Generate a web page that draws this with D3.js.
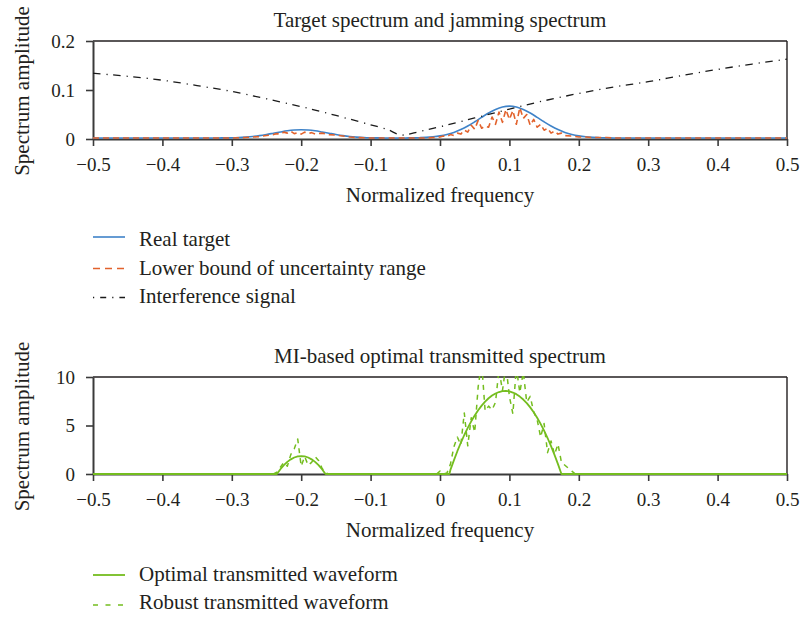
<!DOCTYPE html>
<html><head><meta charset="utf-8">
<script src="https://cdn.jsdelivr.net/npm/d3@7"></script>
<style>
body{margin:0;background:#fff}
svg{display:block}
text{font-family:"Liberation Serif","Times New Roman",serif;fill:#231f20}
</style>
</head><body>
<svg id="chart" width="801" height="618"></svg>
<script>
// ---------- data ----------
const xTicks = [-0.5,-0.4,-0.3,-0.2,-0.1,0,0.1,0.2,0.3,0.4,0.5];
const topYTicks = [0,0.1,0.2];
const botYTicks = [0,5,10];

const topTitle = "Target spectrum and jamming spectrum";
const botTitle = "MI-based optimal transmitted spectrum";
const xLabel = "Normalized frequency";
const yLabel = "Spectrum amplitude";
const topLegend = ["Real target","Lower bound of uncertainty range","Interference signal"];
const botLegend = ["Optimal transmitted waveform","Robust transmitted waveform"];

// Real target
const freqTarget = [-0.5,-0.33,-0.32,-0.31,-0.30,-0.29,-0.28,-0.27,-0.26,-0.25,-0.24,-0.23,-0.22,-0.21,-0.20,
  -0.19,-0.18,-0.17,-0.16,-0.15,-0.14,-0.13,-0.12,-0.11,-0.10,-0.09,-0.08,-0.07,-0.06,-0.05,-0.04,-0.03,-0.02,-0.01,
  0.00,0.01,0.02,0.03,0.04,0.05,0.06,0.07,0.08,0.09,0.10,0.11,0.12,0.13,0.14,0.15,0.16,0.17,0.18,0.19,0.20,
  0.21,0.22,0.23,0.24,0.25,0.26,0.5];
const ampTarget = [0.002,0.002,0.0021,0.0023,0.0025,0.0030,0.0039,0.0051,0.0069,0.0092,0.0118,0.0144,0.0168,0.0184,0.0190,
  0.0184,0.0168,0.0144,0.0118,0.0092,0.0069,0.0051,0.0039,0.0030,0.0025,0.0023,0.0021,0.002,0.002,0.0021,0.0023,0.0027,0.0033,0.0045,
  0.0064,0.0093,0.0135,0.0193,0.0266,0.0351,0.0442,0.0530,0.0603,0.0653,0.0670,0.0653,0.0603,0.0530,0.0442,0.0351,0.0266,0.0193,0.0135,0.0093,0.0064,
  0.0045,0.0033,0.0027,0.0023,0.0021,0.002,0.002];

// Lower bound of uncertainty range
const freqLower = [-0.5,-0.30,-0.28,-0.26,-0.25,-0.24,-0.235,-0.23,-0.225,-0.22,-0.215,-0.21,-0.205,-0.20,-0.195,-0.19,-0.185,-0.18,
  -0.17,-0.16,-0.15,-0.14,-0.13,-0.12,-0.10,-0.02,-0.01,0.0,0.005,0.01,0.015,0.02,0.025,0.03,0.035,0.04,0.045,0.05,0.055,0.06,
  0.065,0.07,0.075,0.08,0.085,0.09,0.095,0.1,0.105,0.11,0.115,0.12,0.125,0.13,0.135,0.14,0.145,0.15,0.155,0.16,0.165,0.17,0.175,
  0.18,0.19,0.2,0.21,0.22,0.24,0.25,0.5];
const ampLower = [0.002,0.002,0.003,0.005,0.007,0.009,0.011,0.010,0.014,0.012,0.016,0.011,0.013,0.010,0.014,0.011,0.013,0.010,
  0.012,0.009,0.008,0.006,0.004,0.003,0.002,0.002,0.003,0.004,0.006,0.005,0.009,0.007,0.012,0.010,0.018,0.014,0.028,0.020,0.038,0.022,
  0.026,0.024,0.045,0.030,0.055,0.034,0.060,0.040,0.058,0.030,0.064,0.042,0.050,0.028,0.040,0.024,0.030,0.018,0.022,0.012,0.016,0.010,0.012,
  0.007,0.006,0.004,0.004,0.003,0.003,0.002,0.002];

// Interference signal
const freqJam = [-0.5,-0.45,-0.4,-0.35,-0.3,-0.25,-0.2,-0.15,-0.1,-0.075,-0.055,-0.03,0,0.05,0.1,0.15,0.2,0.25,0.3,0.35,0.4,0.45,0.5];
const ampJam  = [0.134,0.128,0.120,0.109,0.097,0.082,0.066,0.048,0.029,0.019,0.008,0.015,0.025,0.043,0.061,0.078,0.093,0.106,0.117,0.130,0.142,0.153,0.163];

// Optimal transmitted waveform
const freqOpt = [-0.5,-0.235,-0.23,-0.225,-0.22,-0.215,-0.21,-0.205,-0.2,-0.195,-0.19,-0.185,-0.18,-0.175,-0.17,-0.165,
  0.0135,0.015,0.02,0.025,0.03,0.035,0.04,0.045,0.05,0.055,0.06,0.065,0.07,0.075,0.08,0.085,0.09,0.095,0.1,
  0.105,0.11,0.115,0.12,0.125,0.13,0.135,0.14,0.145,0.15,0.155,0.16,0.165,0.17,0.175,0.5];
const ampOpt = [0,0,0.49,0.91,1.25,1.51,1.70,1.81,1.85,1.81,1.70,1.51,1.25,0.91,0.49,0,
  0,0.42,1.41,2.35,3.22,4.02,4.76,5.43,6.03,6.58,7.05,7.46,7.81,8.09,8.30,8.45,8.54,8.56,8.51,
  8.40,8.23,7.98,7.68,7.31,6.87,6.37,5.80,5.17,4.47,3.71,2.88,1.98,1.02,0,0];

// Robust transmitted waveform
const freqRobust = [-0.5,-0.24,-0.235,-0.23,-0.225,-0.22,-0.215,-0.21,-0.205,-0.2,-0.195,-0.19,-0.185,-0.18,-0.175,-0.17,-0.165,-0.16,
  -0.005,0,0.005,0.01,0.015,0.02,0.025,0.03,0.035,0.04,0.045,0.05,0.055,0.06,0.065,0.07,0.075,0.08,0.085,0.09,0.095,0.1,
  0.105,0.11,0.115,0.12,0.125,0.13,0.135,0.14,0.145,0.15,0.155,0.16,0.165,0.17,0.175,0.18,0.185,0.19,0.195,0.5];
const ampRobust = [0,0,0.2,0.7,1.2,0.8,2.0,2.6,3.6,0.8,1.8,0.9,1.2,1.8,1.4,0.6,0.1,0,
  0,0.3,0,0.1,1.0,2.8,3.8,3.0,6.3,2.9,5.8,4.3,9.0,11.5,6.5,7.0,6.6,7.4,10.8,8.6,11.2,8.0,
  6.2,11.0,8.4,10.5,7.4,8.0,6.4,5.6,3.8,5.2,2.2,3.4,2.0,3.1,1.2,0.9,0.6,0.3,0,0];

// ---------- drawing ----------
const svg = d3.select("#chart");
const x = d3.scaleLinear().domain([-0.5,0.5]).range([93,787]);
const fmtX = d => d === 0 ? "0" : d3.format(".1f")(d).replace("-", "\u2212");
const zip = (fx, fy) => fx.map((f,i) => [f, fy[i]]);

function panel(cfg) {
  const y = d3.scaleLinear().domain(cfg.yDomain).range([cfg.bottom, cfg.top]);
  const g = svg.append("g");
  const clipId = "clip" + cfg.id;
  svg.append("clipPath").attr("id", clipId).append("rect")
    .attr("x", x.range()[0]).attr("y", cfg.top - 1)
    .attr("width", x.range()[1] - x.range()[0]).attr("height", cfg.bottom - cfg.top + 3);

  // frame top/right
  g.append("line").attr("x1", x.range()[0]).attr("x2", x.range()[1]).attr("y1", cfg.top).attr("y2", cfg.top)
    .attr("stroke", "#231f20").attr("stroke-width", 1.4);
  g.append("line").attr("x1", x.range()[1]).attr("x2", x.range()[1]).attr("y1", cfg.top).attr("y2", cfg.bottom)
    .attr("stroke", "#231f20").attr("stroke-width", 1.4);

  const xa = g.append("g").attr("transform", `translate(0,${cfg.bottom})`)
    .call(d3.axisBottom(x).tickValues(xTicks).tickFormat(fmtX).tickSize(7).tickSizeOuter(0));
  xa.selectAll("text").attr("y", 32).attr("dy", 0).style("font-size", "19px");
  const ya = g.append("g").attr("transform", `translate(${x.range()[0]},0)`)
    .call(d3.axisLeft(y).tickValues(cfg.yTicks).tickFormat(cfg.yFmt).tickSize(7).tickSizeOuter(0));
  ya.selectAll("text").attr("x", -18).attr("dy", "0.34em").style("font-size", "19px");
  [xa, ya].forEach(a => {
    a.select(".domain").attr("stroke", "#3a3a3a").attr("stroke-width", 2);
    a.selectAll(".tick line").attr("stroke", "#3a3a3a").attr("stroke-width", 1.6);
    a.selectAll("text").style("font-family", '"Liberation Serif","Times New Roman",serif').attr("fill", "#231f20");
  });

  // titles
  g.append("text").attr("x", (x.range()[0] + x.range()[1]) / 2).attr("y", cfg.top - 14)
    .attr("text-anchor", "middle").style("font-size", "21px").text(cfg.title);
  g.append("text").attr("x", (x.range()[0] + x.range()[1]) / 2).attr("y", cfg.bottom + 63)
    .attr("text-anchor", "middle").style("font-size", "21px").text(xLabel);
  g.append("text").attr("transform", `translate(29,${(cfg.top + cfg.bottom) / 2 + 1}) rotate(-90)`)
    .attr("text-anchor", "middle").style("font-size", "21px").text(yLabel);

  const lines = g.append("g").attr("clip-path", `url(#${clipId})`);
  cfg.series.forEach(s => {
    lines.append("path").datum(zip(s.fx, s.fy))
      .attr("fill", "none").attr("stroke", s.color).attr("stroke-width", s.width)
      .attr("stroke-dasharray", s.dash || null).attr("stroke-linejoin", "round")
      .attr("d", d3.line().x(d => x(d[0])).y(d => y(d[1])).curve(s.curve || d3.curveLinear));
  });

  // legend
  const lg = svg.append("g");
  cfg.legend.forEach((name, i) => {
    const s = cfg.legendSeries[i];
    const by = cfg.legendY[i];
    lg.append("line").attr("x1", 93).attr("x2", 125).attr("y1", by - s.off).attr("y2", by - s.off)
      .attr("stroke", s.color).attr("stroke-width", s.width).attr("stroke-dasharray", s.ldash || null);
    lg.append("text").attr("x", 139).attr("y", by).style("font-size", "21px").text(name);
  });
}

const cBlue = "#3f83c8", cOrange = "#e2622c", cBlack = "#1a1a1a", cGreen = "#74bd1f";

const sTarget = {fx: freqTarget, fy: ampTarget, color: cBlue, width: 1.6, curve: d3.curveMonotoneX, off: 9};
const sLower  = {fx: freqLower, fy: ampLower, color: cOrange, width: 1.6, dash: "6,4", ldash: "7,5", off: 6};
const sJam    = {fx: freqJam, fy: ampJam, color: cBlack, width: 1.3, dash: "7.5,6,1.2,5.5", ldash: "1.2,6,6,6", off: 5, curve: d3.curveMonotoneX};
const sOpt    = {fx: freqOpt, fy: ampOpt, color: cGreen, width: 1.8, off: 6};
const sRob    = {fx: freqRobust, fy: ampRobust, color: cGreen, width: 1.5, dash: "5,5", ldash: "5,7.5", off: 4};

panel({id: "top", top: 41, bottom: 139, yDomain: [0, 0.2], yTicks: topYTicks,
  yFmt: d => d === 0 ? "0" : d3.format(".1f")(d), title: topTitle,
  series: [sTarget, sLower, sJam],
  legend: topLegend, legendSeries: [sTarget, sLower, sJam], legendY: [246, 274.5, 302.5]});

panel({id: "bot", top: 377, bottom: 474, yDomain: [0, 10], yTicks: botYTicks,
  yFmt: d3.format("d"), title: botTitle,
  series: [sRob, sOpt],
  legend: botLegend, legendSeries: [sOpt, sRob], legendY: [581, 609]});
</script>
</body></html>
